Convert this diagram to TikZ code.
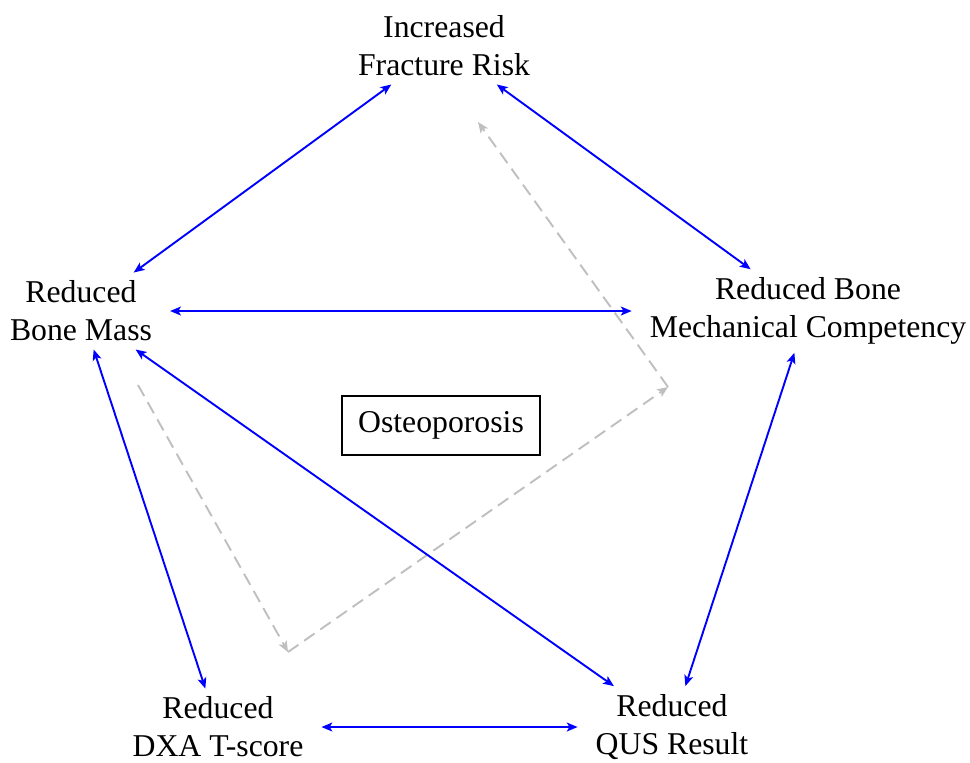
\documentclass[tikz,border=0pt]{standalone}
\usepackage{fontspec}
\setmainfont{Liberation Serif}
\usetikzlibrary{arrows.meta}
\begin{document}
\begin{tikzpicture}[x=0.315pt,y=-0.315pt,
  every node/.style={font=\fontsize{10}{12}\selectfont},
  lbl/.style={align=center, inner xsep=5.5pt, inner ysep=2.4pt},
  link/.style={blue, semithick, {Stealth[length=3.4pt,width=2.8pt,inset=0.8pt]}-{Stealth[length=3.4pt,width=2.8pt,inset=0.8pt]}},
  hint/.style={gray!50, semithick, dash pattern=on 4pt off 2.2pt, -{Stealth[length=3.4pt,width=2.8pt,inset=0.8pt]}},
  box/.style={draw, semithick, inner sep=5pt}]
\useasboundingbox (0,0) rectangle (970,762);
\node[lbl] (frac) at (444,46) {Increased\\Fracture Risk};
\node[lbl] (mass) at (81,311) {Reduced\\Bone Mass};
\node[lbl] (mech) at (808,311) {Reduced Bone\\Mechanical Competency};
\node[lbl] (dxa) at (218,727) {Reduced\\DXA T-score};
\node[lbl] (qus) at (672,727) {Reduced\\QUS Result};
\node[box] (ost) at (441,425.5) {Osteoporosis};
\coordinate (g1) at (138,385);
\coordinate (g2) at (288,652);
\coordinate (g3) at (668,387);
\coordinate (g4) at (478,122);
\draw[hint] (g1) -- (g2);
\draw[hint] (g2) -- (g3);
\draw[hint] (g3) -- (g4);
\draw[link] (frac) -- (mass);
\draw[link] (frac) -- (mech);
\draw[link] (mass) -- (mech);
\draw[link] (mass) -- (dxa);
\draw[link] (mass) -- (qus);
\draw[link] (mech) -- (qus);
\draw[link] (dxa) -- (qus);
\end{tikzpicture}
\end{document}
